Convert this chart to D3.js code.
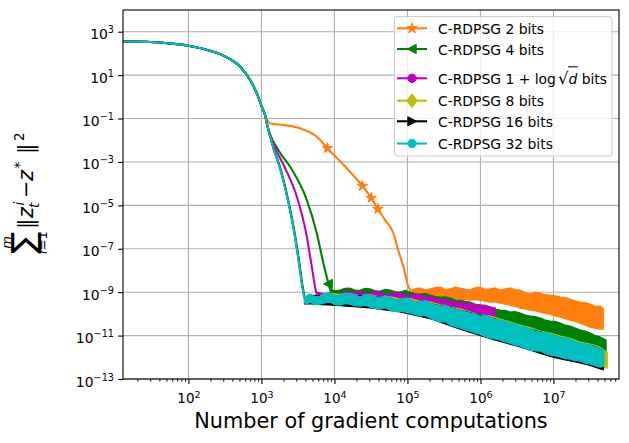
<!DOCTYPE html>
<html><head><meta charset="utf-8">
<script src="https://cdn.jsdelivr.net/npm/d3@7"></script>
<style>body{margin:0;background:#fff;} svg{display:block;font-family:"DejaVu Sans",sans-serif;}</style>
</head><body><svg id="chart" width="629" height="443"></svg>
<script>
// ---------------- data ----------------
const xDomain = [12.7, 7.9e7];
const yDomain = [1e-13, 1e4];
const xMajor = [1e2, 1e3, 1e4, 1e5, 1e6, 1e7];
const xTickExp = ["2", "3", "4", "5", "6", "7"];
const yMajor = [1e-13, 1e-11, 1e-9, 1e-7, 1e-5, 1e-3, 1e-1, 1e1, 1e3];
const yTickExp = ["\u221213", "\u221211", "\u22129", "\u22127", "\u22125", "\u22123", "\u22121", "1", "3"];

const seriesNames = ["C-RDPSG 2 bits", "C-RDPSG 4 bits", "C-RDPSG 1+log\u221Ad bits", "C-RDPSG 8 bits", "C-RDPSG 16 bits", "C-RDPSG 32 bits"];

// shared initial decrease [x, y]
const commonDescent = [[13,360],[30,335],[56,286],[100,226],[198,133],[336,66],[511,24.4],[700,5.9],[865,1.45],[1010,0.35],[1120,0.145]];

// smooth decrease of each series after the shared part [x, y]
const descent2 = [[1310,0.060],[2000,0.050],[3390,0.0355],[5740,0.0145],[8020,0.0043],[16400,3.5e-4],[24200,7.8e-5],[31900,2.2e-5],[39400,6.8e-6],[49400,2.1e-6],[64300,5.1e-7],[74600,8.7e-8],[88100,1.5e-8],[103000,1.8e-9],[116000,9.5e-10]];
const descent4 = [[1200,0.05],[1710,3.5e-3],[2470,6.0e-4],[4190,1.75e-5],[5740,5.1e-7],[7230,1.48e-8],[8280,2.55e-9],[8730,1.3e-9]];
const descentLog = [[1200,0.05],[1590,3.5e-3],[2070,6.0e-4],[3160,1.75e-5],[4100,5.1e-7],[4900,1.48e-8],[5320,2.55e-9],[5610,1.0e-9]];
const descent8 = [[1200,0.05],[1500,3.5e-3],[1790,6.0e-4],[2330,1.75e-5],[2870,5.1e-7],[3370,1.48e-8],[3620,2.55e-9],[3950,5.0e-10]];
const descent16 = [[1200,0.05],[1490,3.5e-3],[1780,6.0e-4],[2310,1.75e-5],[2840,5.1e-7],[3340,1.48e-8],[3590,2.55e-9],[3900,5.2e-10]];
const descent32 = [[1200,0.05],[1490,3.5e-3],[1770,6.0e-4],[2300,1.75e-5],[2830,5.1e-7],[3320,1.48e-8],[3570,2.55e-9],[3880,5.2e-10]];

// noisy floor of each series: [x, low, high]
const band2 = [[116000,7.3e-10,1.25e-9],[132000,6.2e-10,1.5e-9],[149000,6.6e-10,1.55e-9],[175000,5.6e-10,1.3e-9],[205000,5.9e-10,1.4e-9],[240000,5.2e-10,1.6e-9],[281000,6.6e-10,1.72e-9],[329000,5.3e-10,1.35e-9],[385000,5.9e-10,1.4e-9],[451000,5.0e-10,1.7e-9],[528000,4.8e-10,1.55e-9],[618000,4.6e-10,1.35e-9],[723000,4.3e-10,1.25e-9],[847000,4.6e-10,1.6e-9],[991000,4.3e-10,1.72e-9],[1.16e6,3.8e-10,1.35e-9],[1.36e6,3.5e-10,1.4e-9],[1.59e6,3.6e-10,1.55e-9],[1.86e6,3.15e-10,1.25e-9],[2.18e6,2.8e-10,1.4e-9],[2.55e6,2.55e-10,1.55e-9],[2.99e6,2.2e-10,1.3e-9],[3.5e6,1.85e-10,1.25e-9],[4.1e6,1.7e-10,9.5e-10],[4.8e6,1.5e-10,8.2e-10],[5.62e6,1.4e-10,9.8e-10],[6.58e6,1.21e-10,9.1e-10],[7.7e6,1.05e-10,7.6e-10],[9.0e6,9.8e-11,7.3e-10],[1.06e7,8.0e-11,6.8e-10],[1.24e7,7.1e-11,5.9e-10],[1.45e7,6.0e-11,5.6e-10],[1.69e7,5.2e-11,4.8e-10],[1.98e7,4.5e-11,4.0e-10],[2.32e7,3.77e-11,3.5e-10],[2.72e7,3.0e-11,3.3e-10],[3.18e7,2.47e-11,2.83e-10],[3.73e7,2.2e-11,2.2e-10],[4.37e7,2.0e-11,2.29e-10],[4.8e7,2.0e-11,1.85e-10]];
const band4 = [[8730,5.9e-10,1.4e-9],[10200,5.0e-10,1.15e-9],[12000,5.35e-10,1.25e-9],[14000,5.0e-10,1.5e-9],[16400,5.9e-10,1.55e-9],[19200,4.6e-10,1.2e-9],[22500,4.8e-10,1.25e-9],[26300,5.0e-10,1.5e-9],[30800,5.35e-10,1.4e-9],[36100,4.6e-10,1.15e-9],[42300,4.3e-10,1.12e-9],[49500,4.0e-10,1.35e-9],[58000,3.9e-10,1.25e-9],[67900,3.8e-10,1.05e-9],[79400,3.5e-10,1.01e-9],[93000,3.3e-10,1.2e-9],[109000,3.15e-10,1.01e-9],[127000,2.8e-10,8.5e-10],[149000,2.55e-10,8.2e-10],[175000,2.4e-10,8.8e-10],[205000,2.29e-10,7.3e-10],[240000,2.0e-10,6.2e-10],[281000,1.85e-10,5.9e-10],[329000,1.75e-10,6.0e-10],[385000,1.66e-10,5.35e-10],[451000,1.4e-10,4.4e-10],[528000,1.21e-10,4.3e-10],[618000,1.1e-10,3.8e-10],[723000,9.8e-11,3.5e-10],[847000,8.5e-11,2.8e-10],[991000,7.9e-11,2.55e-10],[1.16e6,7.0e-11,2.5e-10],[1.36e6,6.4e-11,2.06e-10],[1.59e6,5.2e-11,1.65e-10],[1.86e6,4.66e-11,1.5e-10],[2.18e6,4.0e-11,1.45e-10],[2.55e6,3.4e-11,1.21e-10],[2.99e6,2.8e-11,1.25e-10],[3.5e6,2.47e-11,1.09e-10],[4.1e6,2.2e-11,8.8e-11],[4.8e6,2.0e-11,7.9e-11],[5.62e6,1.6e-11,7.5e-11],[6.58e6,1.45e-11,6.4e-11],[7.7e6,1.3e-11,5.2e-11],[9.0e6,1.17e-11,4.66e-11],[1.06e7,9.5e-12,4.5e-11],[1.24e7,8.5e-12,3.77e-11],[1.45e7,6.9e-12,3.0e-11],[1.69e7,5.6e-12,2.74e-11],[1.98e7,4.6e-12,2.2e-11],[2.32e7,3.65e-12,1.79e-11],[2.72e7,2.9e-12,1.6e-11],[3.18e7,2.4e-12,1.3e-11],[3.73e7,1.9e-12,1.0e-11],[4.37e7,1.56e-12,8.5e-12],[5.25e7,1.26e-12,6.2e-12]];
const bandLog = [[5610,5.35e-10,1.01e-9],[7000,4.5e-10,8.5e-10],[8730,4.3e-10,9.1e-10],[10200,3.8e-10,7.6e-10],[12000,3.5e-10,8.2e-10],[14000,3.7e-10,1.05e-9],[16400,3.9e-10,1.01e-9],[19200,4.1e-10,9.5e-10],[22500,4.3e-10,1.12e-9],[26300,3.9e-10,8.6e-10],[30800,3.5e-10,9.1e-10],[36100,3.3e-10,1.1e-9],[42300,3.15e-10,1.01e-9],[49500,3.0e-10,8.0e-10],[58000,2.83e-10,8.2e-10],[67900,2.7e-10,9.6e-10],[79400,2.55e-10,9.1e-10],[93000,2.4e-10,7.0e-10],[109000,2.29e-10,7.3e-10],[127000,2.0e-10,8.0e-10],[149000,1.85e-10,7.3e-10],[175000,1.75e-10,6.0e-10],[205000,1.66e-10,6.6e-10],[240000,1.5e-10,5.2e-10],[281000,1.35e-10,4.3e-10],[329000,1.2e-10,4.6e-10],[385000,1.09e-10,3.9e-10],[451000,9.8e-11,3.4e-10],[528000,8.8e-11,3.5e-10],[618000,8.2e-11,3.0e-10],[723000,7.9e-11,3.15e-10],[847000,7.0e-11,2.6e-10],[991000,6.4e-11,2.55e-10],[1.16e6,5.8e-11,2.3e-10],[1.36e6,5.2e-11,2.06e-10],[1.59e6,4.66e-11,1.85e-10]];
const band8 = [[3950,3.0e-10,6.2e-10],[4650,3.3e-10,7.5e-10],[6370,2.7e-10,7.0e-10],[8730,3.2e-10,8.8e-10],[12000,2.6e-10,7.8e-10],[16400,2.7e-10,8.6e-10],[22500,2.3e-10,6.4e-10],[30800,2.1e-10,7.6e-10],[42300,1.7e-10,5.8e-10],[58000,1.5e-10,6.2e-10],[79400,1.35e-10,4.8e-10],[109000,1.1e-10,5.2e-10],[149000,8.0e-11,3.8e-10],[205000,6.5e-11,3.5e-10],[281000,4.3e-11,2.6e-10],[385000,3.1e-11,2.0e-10],[528000,2.3e-11,1.7e-10],[723000,1.65e-11,1.2e-10],[991000,1.2e-11,9.0e-11],[1.36e6,7.9e-12,7.8e-11],[1.86e6,6.3e-12,5.8e-11],[2.55e6,4.6e-12,4.2e-11],[3.5e6,3.3e-12,3.0e-11],[4.8e6,2.2e-12,2.3e-11],[6.58e6,1.95e-12,1.6e-11],[9.0e6,1.3e-12,1.3e-11],[1.24e7,1.05e-12,9.5e-12],[1.69e7,8.5e-13,7.5e-12],[2.32e7,6.8e-13,5.0e-12],[3.18e7,5.0e-13,4.0e-12],[4.37e7,3.6e-13,2.9e-12],[5.45e7,3.2e-13,1.6e-12]];
const band16 = [[3900,2.9e-10,5.6e-10],[4650,2.9e-10,7.0e-10],[12000,2.4e-10,7.0e-10],[30800,1.9e-10,6.8e-10],[79400,1.25e-10,4.1e-10],[205000,6.0e-11,3.0e-10],[528000,2.0e-11,1.45e-10],[1.36e6,7.2e-12,6.8e-11],[3.5e6,3.0e-12,2.6e-11],[9.0e6,1.1e-12,1.1e-11],[1.24e7,8.5e-13,8.0e-12],[2.32e7,5.5e-13,4.3e-12],[3.18e7,4.2e-13,3.5e-12],[4.37e7,2.9e-13,2.5e-12],[4.8e7,2.7e-13,2.0e-12]];
const band32 = [[3880,3.15e-10,5.9e-10],[4250,2.9e-10,6.8e-10],[4650,3.5e-10,8.2e-10],[5450,2.6e-10,6.0e-10],[6370,2.83e-10,6.6e-10],[7450,3.2e-10,8.8e-10],[8730,3.5e-10,9.1e-10],[10200,2.7e-10,6.9e-10],[12000,2.55e-10,7.3e-10],[14000,3.0e-10,9.0e-10],[16400,2.83e-10,8.2e-10],[19200,2.4e-10,7.8e-10],[22500,2.29e-10,5.9e-10],[26300,2.5e-10,7.8e-10],[30800,2.06e-10,7.3e-10],[36100,1.8e-10,6.2e-10],[42300,1.66e-10,5.35e-10],[49500,1.9e-10,6.8e-10],[58000,1.5e-10,5.9e-10],[67900,1.3e-10,4.6e-10],[79400,1.35e-10,4.3e-10],[93000,1.2e-10,5.5e-10],[109000,1.09e-10,4.8e-10],[127000,9.5e-11,3.6e-10],[149000,7.9e-11,3.5e-10],[175000,8.5e-11,4.2e-10],[205000,6.4e-11,3.15e-10],[240000,5.0e-11,2.6e-10],[281000,4.2e-11,2.29e-10],[329000,4.5e-11,2.5e-10],[385000,3.05e-11,1.85e-10],[451000,2.6e-11,1.6e-10],[528000,2.22e-11,1.5e-10],[618000,1.9e-11,1.25e-10],[723000,1.61e-11,1.09e-10],[847000,1.3e-11,1.0e-10],[991000,1.17e-11,7.9e-11],[1.16e6,9.0e-12,8.5e-11],[1.36e6,7.7e-12,7.1e-11],[1.59e6,7.0e-12,5.6e-11],[1.86e6,6.2e-12,5.2e-11],[2.18e6,5.2e-12,4.6e-11],[2.55e6,4.5e-12,3.77e-11],[2.99e6,3.6e-12,3.5e-11],[3.5e6,3.28e-12,2.74e-11],[4.1e6,2.6e-12,2.6e-11],[4.8e6,2.15e-12,2.0e-11],[5.62e6,2.0e-12,1.6e-11],[6.58e6,1.93e-12,1.45e-11],[7.7e6,1.5e-12,1.4e-11],[9.0e6,1.26e-12,1.17e-11],[1.06e7,1.15e-12,9.5e-12],[1.24e7,1.02e-12,8.5e-12],[1.45e7,8.8e-13,8.0e-12],[1.69e7,8.3e-13,6.9e-12],[1.98e7,7.0e-13,5.4e-12],[2.32e7,6.7e-13,4.5e-12],[2.72e7,5.4e-13,4.2e-12],[3.18e7,4.9e-13,3.65e-12],[3.73e7,4.1e-13,2.9e-12],[4.37e7,3.5e-13,2.65e-12],[4.9e7,3.9e-13,1.93e-12]];

// visible markers [x, y]
const markers2 = [[8020,0.0043],[24200,7.8e-5],[31900,2.2e-5],[39400,6.8e-6]];
const markers4 = [[8200,2.4e-9]];
const markersEmpty = [];

// ---------------- styles ----------------
const colors = ["#ff7f0e", "#008000", "#bf00bf", "#bfbf00", "#000000", "#00bfbf"];
const markerTypes = ["star", "triL", "circle", "thinDiamond", "triR", "circle"];
const descents = [descent2, descent4, descentLog, descent8, descent16, descent32];
const bands = [band2, band4, bandLog, band8, band16, band32];
const markerSets = [markers2, markers4, markersEmpty, markersEmpty, markersEmpty, markersEmpty];

const plot = {left: 123, top: 10, right: 619, bottom: 379};
const svg = d3.select("#chart");
const x = d3.scaleLog().domain(xDomain).range([plot.left, plot.right]);
const y = d3.scaleLog().domain(yDomain).range([plot.bottom, plot.top]);

// grid
const grid = svg.append("g");
grid.selectAll("line.gx").data(xMajor).join("line").attr("class", "gx")
  .attr("x1", d => x(d)).attr("x2", d => x(d)).attr("y1", plot.top).attr("y2", plot.bottom)
  .attr("stroke", "#b0b0b0").attr("stroke-width", 1.1);
grid.selectAll("line.gy").data(yMajor).join("line").attr("class", "gy")
  .attr("y1", d => y(d)).attr("y2", d => y(d)).attr("x1", plot.left).attr("x2", plot.right)
  .attr("stroke", "#b0b0b0").attr("stroke-width", 1.1);

svg.append("clipPath").attr("id", "clip").append("rect")
  .attr("x", plot.left).attr("y", plot.top).attr("width", plot.right - plot.left).attr("height", plot.bottom - plot.top);

function markerPath(type) {
  if (type === "star") return d3.symbol(d3.symbolStar, 34)();
  if (type === "circle") return d3.symbol(d3.symbolCircle, 55)();
  if (type === "triL") return "M-4.6,0L4.2,-4.6L4.2,4.6Z";
  if (type === "triR") return "M4.6,0L-4.2,-4.6L-4.2,4.6Z";
  if (type === "thinDiamond") return "M0,-7L5.2,0L0,7L-5.2,0Z";
}

const dataG = svg.append("g").attr("clip-path", "url(#clip)");
const line = d3.line().x(d => x(d[0])).y(d => y(d[1])).curve(d3.curveMonotoneX);
const area = d3.area().x(d => x(d[0])).y0(d => y(d[1])).y1(d => y(d[2]));

for (let i = 0; i < 6; i++) {
  const c = colors[i];
  dataG.append("path").datum(bands[i]).attr("d", area)
    .attr("fill", c).attr("stroke", c).attr("stroke-width", 1.3).attr("stroke-linejoin", "miter");
  dataG.append("path").datum(commonDescent.concat(descents[i])).attr("d", line)
    .attr("fill", "none").attr("stroke", c).attr("stroke-width", 2.1).attr("stroke-linejoin", "round");
  dataG.selectAll(null).data(markerSets[i]).join("path")
    .attr("d", markerPath(markerTypes[i]))
    .attr("transform", d => `translate(${x(d[0])},${y(d[1])})`)
    .attr("fill", c).attr("stroke", c).attr("stroke-width", 1);
}

// spines
svg.append("rect").attr("x", plot.left).attr("y", plot.top)
  .attr("width", plot.right - plot.left).attr("height", plot.bottom - plot.top)
  .attr("fill", "none").attr("stroke", "#000").attr("stroke-width", 1.1);

// x axis
const xMinor = [];
for (let k = 1; k <= 7; k++) for (let m = 2; m <= 9; m++) { const v = m * Math.pow(10, k); if (v >= xDomain[0] && v <= xDomain[1]) xMinor.push(v); }
const gxMinor = svg.append("g").attr("transform", `translate(0,${plot.bottom})`)
  .call(d3.axisBottom(x).tickValues(xMinor).tickSize(2.8).tickFormat(() => ""));
gxMinor.select(".domain").remove();
gxMinor.selectAll(".tick line").attr("stroke", "#000").attr("stroke-width", 0.9);

const gx = svg.append("g").attr("transform", `translate(0,${plot.bottom})`)
  .call(d3.axisBottom(x).tickValues(xMajor).tickSize(4.9).tickFormat(() => ""));
gx.select(".domain").remove();
gx.attr("font-family", "DejaVu Sans").attr("font-size", 13.5);
gx.selectAll(".tick line").attr("stroke", "#000").attr("stroke-width", 1.1);
gx.selectAll(".tick text").each(function (d, i) {
  const t = d3.select(this).attr("y", 23.5).attr("dy", null).attr("fill", "#000").attr("text-anchor", "middle");
  t.text(null);
  t.append("tspan").text("10");
  t.append("tspan").attr("dy", -5).attr("font-size", 9.5).text(xTickExp[i]);
});

// y axis
const gy = svg.append("g").attr("transform", `translate(${plot.left},0)`)
  .call(d3.axisLeft(y).tickValues(yMajor).tickSize(4.9).tickFormat(() => ""));
gy.select(".domain").remove();
gy.attr("font-family", "DejaVu Sans").attr("font-size", 13.9);
gy.selectAll(".tick line").attr("stroke", "#000").attr("stroke-width", 1.1);
gy.selectAll(".tick text").each(function (d, i) {
  const t = d3.select(this).attr("x", -9).attr("y", 7).attr("dy", null).attr("fill", "#000").attr("text-anchor", "end");
  t.text(null);
  t.append("tspan").text("10");
  t.append("tspan").attr("dy", -6).attr("font-size", 9.7).text(yTickExp[i]);
});

// x label
svg.append("text").attr("x", (plot.left + plot.right) / 2).attr("y", 428)
  .attr("text-anchor", "middle").attr("font-size", 20.8).attr("fill", "#000")
  .text("Number of gradient computations");

// y label (math)
const yl = svg.append("g").attr("transform", "translate(33,255) rotate(-90)").attr("fill", "#000");
yl.append("text").attr("x", 12.5).attr("y", 2).attr("text-anchor", "middle").attr("font-size", 33).text("\u2211");
yl.append("text").attr("x", 12.5).attr("y", -22).attr("text-anchor", "middle").attr("font-size", 13).attr("font-style", "italic").text("m");
const sub = yl.append("text").attr("x", 12.5).attr("y", 14).attr("text-anchor", "middle").attr("font-size", 13);
sub.append("tspan").attr("font-style", "italic").text("i");
sub.append("tspan").text("=1");
const main = (u, v, size, txt, italic) => yl.append("text").attr("x", u).attr("y", v).attr("font-size", size)
  .attr("font-style", italic ? "italic" : null).text(txt);
main(26, 0, 20.8, "\u2016");
main(37, 0, 20.8, "z", true);
main(47, 6, 13.5, "t", true);
main(49.5, -9, 13.5, "i", true);
main(57, 0, 20.8, "\u2212");
main(74, 0, 20.8, "z", true);
main(86.5, -9, 13.5, "*");
main(101, 0, 20.8, "\u2016");
main(114, -9, 13.5, "2");

// legend
const lg = svg.append("g");
lg.append("rect").attr("x", 394.5).attr("y", 16.5).attr("width", 217.5).attr("height", 139.5).attr("rx", 3)
  .attr("fill", "#fff").attr("fill-opacity", 0.8).attr("stroke", "#cccccc").attr("stroke-width", 1);
const rowHandleY = [28.3, 49, 78.3, 100.7, 121.3, 143.5];
const rowTextY = [34.2, 54.6, 84, 106.4, 127.3, 149.3];
for (let i = 0; i < 6; i++) {
  lg.append("line").attr("x1", 397).attr("x2", 427).attr("y1", rowHandleY[i]).attr("y2", rowHandleY[i])
    .attr("stroke", colors[i]).attr("stroke-width", 2.1);
  lg.append("path").attr("d", markerPath(markerTypes[i]))
    .attr("transform", `translate(412,${rowHandleY[i]})`).attr("fill", colors[i]).attr("stroke", colors[i]).attr("stroke-width", 1);
  const t = lg.append("text").attr("x", 438).attr("y", rowTextY[i]).attr("font-size", 13.9).attr("fill", "#000");
  if (i !== 2) {
    t.text(seriesNames[i]);
  } else {
    t.append("tspan").text("C-RDPSG 1 + log");
    t.append("tspan").attr("dx", 2).attr("font-size", 16.5).text("\u221A");
    t.append("tspan").attr("font-style", "italic").text("d");
    t.append("tspan").text(" bits");
    const node = t.node();
    const eRad = node.getEndPositionOfChar(15);
    const eD = node.getEndPositionOfChar(16);
    lg.append("line").attr("x1", eRad.x - 0.5).attr("x2", eD.x + 0.5).attr("y1", 66.8).attr("y2", 66.8)
      .attr("stroke", "#000").attr("stroke-width", 1);
  }
}
</script></body></html>
